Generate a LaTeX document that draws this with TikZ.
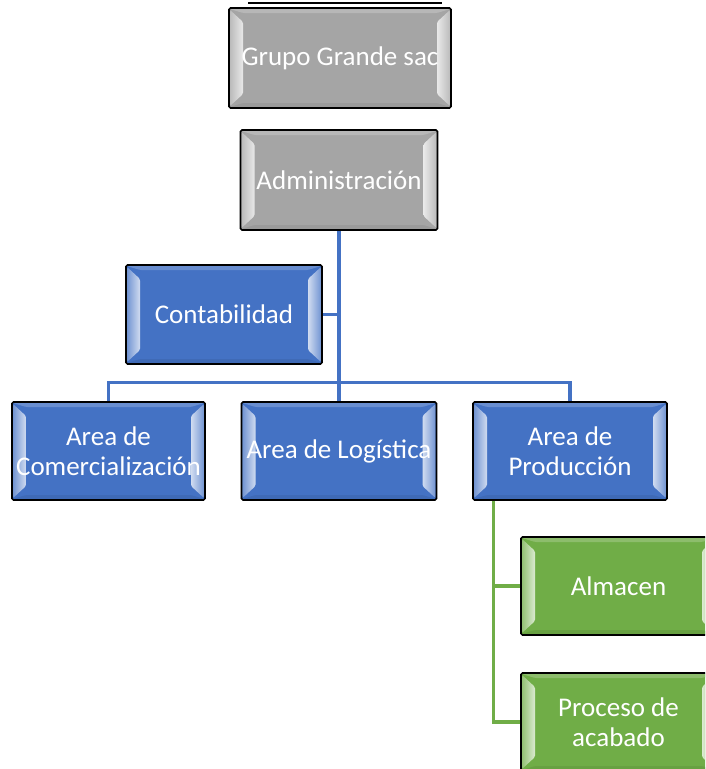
\documentclass[tikz,border=0pt]{standalone}
\usepackage{fontspec}
\setmainfont{Carlito}
\definecolor{cgray}{HTML}{A5A5A5}
\definecolor{cblue}{HTML}{4472C4}
\definecolor{cgreen}{HTML}{70AD47}
\tikzset{
  orgbox/.style={draw=black, line width=1.6pt, rounded corners=1.5pt, fill=#1,
    minimum width=195pt, minimum height=98pt, inner sep=0pt, text=white,
    font=\fontsize{27}{30}\selectfont, align=center,
    path picture={
      \fill[#1!80!white] ([shift={(1pt,-1pt)}]path picture bounding box.north west) -- ([shift={(-1pt,-1pt)}]path picture bounding box.north east) -- ([shift={(-14pt,-5pt)}]path picture bounding box.north east) -- ([shift={(14pt,-5pt)}]path picture bounding box.north west) -- cycle;
      \fill[#1!93!black] ([shift={(1pt,1pt)}]path picture bounding box.south west) -- ([shift={(-1pt,1pt)}]path picture bounding box.south east) -- ([shift={(-14pt,5pt)}]path picture bounding box.south east) -- ([shift={(14pt,5pt)}]path picture bounding box.south west) -- cycle;
      \shade[left color=#1!75!white, right color=white!75!#1]
        ([shift={(1pt,-2pt)}]path picture bounding box.north west) -- ([shift={(14pt,-14pt)}]path picture bounding box.north west) -- ([shift={(14pt,14pt)}]path picture bounding box.south west) -- ([shift={(1pt,2pt)}]path picture bounding box.south west) -- cycle;
      \shade[right color=#1!75!white, left color=white!75!#1]
        ([shift={(-1pt,-2pt)}]path picture bounding box.north east) -- ([shift={(-14pt,-14pt)}]path picture bounding box.north east) -- ([shift={(-14pt,14pt)}]path picture bounding box.south east) -- ([shift={(-1pt,2pt)}]path picture bounding box.south east) -- cycle;
    }},
  blueline/.style={draw=cblue, line width=3.3pt},
  greenline/.style={draw=cgreen, line width=3.3pt}
}
\begin{document}
\begin{tikzpicture}[x=1pt,y=-1pt]
\useasboundingbox (0,0) rectangle (705,769);
\clip (0,0) rectangle (705,769);
\fill[white] (0,0) rectangle (705,769);
\node[orgbox=cgray, minimum width=222pt, minimum height=100pt] (grupo) at (340,58) {Grupo Grande sac};
\node[orgbox=cgray, minimum width=197pt, minimum height=100pt] (adm) at (339,180) {Administración};
\node[orgbox=cblue, minimum width=196pt, minimum height=99pt] (conta) at (224,314.5) {Contabilidad};
\node[orgbox=cblue, minimum width=193pt] (comerc) at (108.5,451) {Area de\\Comercialización};
\node[orgbox=cblue] (log) at (339,451) {Area de Logística};
\node[orgbox=cblue, minimum width=194pt] (prod) at (570,451) {Area de\\Producción};
\node[orgbox=cgreen] (alm) at (618.5,586) {Almacen};
\node[orgbox=cgreen] (proc) at (618.5,722) {Proceso de\\acabado};
\coordinate (gtop) at ([xshift=21pt]prod.south west);
\draw[blueline] (adm.south) -- (log.north);
\draw[blueline] (comerc.north) -- ++(0,-19) -| (prod.north);
\draw[blueline] (conta.east) -- (conta.east -| adm.south);
\draw[greenline] (gtop) |- (alm.west);
\draw[greenline] (gtop) |- (proc.west);
\draw[line width=1.5pt] ([shift={(-92pt,4pt)}]grupo.north) coordinate (tl) -- ([shift={(102pt,4pt)}]grupo.north) coordinate (tr);
\end{tikzpicture}
\end{document}
